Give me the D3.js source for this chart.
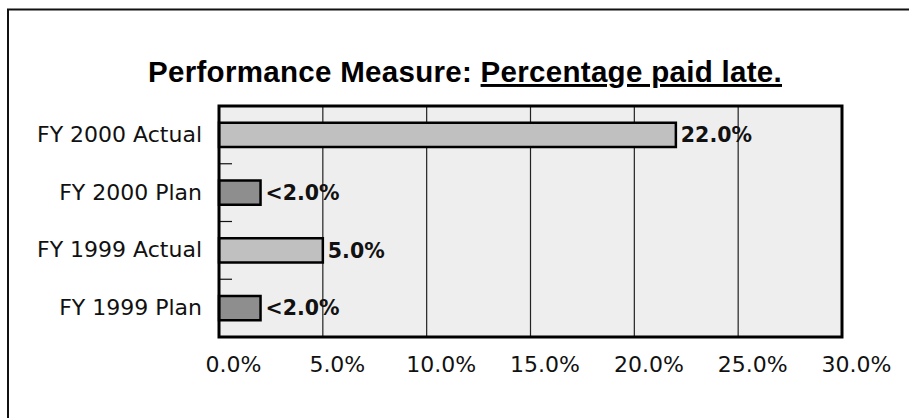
<!DOCTYPE html>
<html>
<head>
<meta charset="utf-8">
<script src="https://cdn.jsdelivr.net/npm/d3@7"></script>
<style>
  body { margin: 0; background: #fff; }
  svg { display: block; }
</style>
</head>
<body>
<svg id="chart"></svg>
<script>
const categories = ["FY 2000 Actual", "FY 2000 Plan", "FY 1999 Actual", "FY 1999 Plan"];
const values = [22.0, 2.0, 5.0, 2.0];
const valueLabels = ["22.0%", "<2.0%", "5.0%", "<2.0%"];
const kinds = ["Actual", "Plan", "Actual", "Plan"];
const xTicks = [0, 5, 10, 15, 20, 25, 30];

const WIDTH = 909, HEIGHT = 418;
const margin = { top: 106, bottom: 81, left: 219, right: 67 };
const width = WIDTH - margin.left - margin.right,
      height = HEIGHT - margin.top - margin.bottom;

const svg = d3.select("svg#chart")
                .attr("width", WIDTH)
                .attr("height", HEIGHT);

// outer frame (only left and top edges show)
svg.append("path")
    .attr("d", `M8,${HEIGHT} V9.5 H${WIDTH}`)
    .attr("fill", "none")
    .attr("stroke", "#111")
    .attr("stroke-width", 2);

// title
const title = svg.append("text")
                .attr("x", 465)
                .attr("y", 82)
                .attr("text-anchor", "middle")
                .style("font-family", "'Liberation Sans', Arial, sans-serif")
                .style("font-weight", "bold")
                .style("font-size", "29.5px")
                .style("letter-spacing", "0.3px")
                .attr("fill", "#000");
title.append("tspan").text("Performance Measure: ");
title.append("tspan").text("Percentage paid late.")
    .style("text-decoration", "underline");

const g = svg.append("g")
            .attr("transform", `translate(${margin.left}, ${margin.top})`);

const x = d3.scaleLinear().domain([0, 30]).range([0, width]);
const y = d3.scaleBand().domain(categories).range([0, height]).padding(0);

const fills = { Actual: "#c0c0c0", Plan: "#8e8e8e" };

g.append("rect")
    .attr("width", width)
    .attr("height", height)
    .attr("fill", "#eeeeee");

// vertical gridlines
g.selectAll("line.grid")
    .data(xTicks.slice(1, -1))
    .join("line")
    .attr("class", "grid")
    .attr("x1", d => x(d)).attr("x2", d => x(d))
    .attr("y1", 0).attr("y2", height)
    .attr("stroke", "#222")
    .attr("stroke-width", 1.2);

// small ticks between categories
g.selectAll("line.ytick")
    .data(categories.slice(1))
    .join("line")
    .attr("class", "ytick")
    .attr("x1", 0).attr("x2", 13)
    .attr("y1", d => y(d)).attr("y2", d => y(d))
    .attr("stroke", "#111")
    .attr("stroke-width", 1.2);

const barH = y.bandwidth() * 0.42;

g.selectAll("rect.bar")
    .data(categories)
    .join("rect")
    .attr("class", "bar")
    .attr("x", x(0))
    .attr("y", d => y(d) + (y.bandwidth() - barH) / 2)
    .attr("width", (d, i) => x(values[i]) - x(0))
    .attr("height", barH)
    .attr("fill", (d, i) => fills[kinds[i]])
    .attr("stroke", "#000")
    .attr("stroke-width", 2.5);

g.selectAll("text.val")
    .data(categories)
    .join("text")
    .attr("class", "val")
    .attr("x", (d, i) => x(values[i]) + 5)
    .attr("y", d => y(d) + y.bandwidth() / 2)
    .attr("dy", "0.35em")
    .style("font-family", "'DejaVu Sans', sans-serif")
    .style("font-weight", "bold")
    .style("font-size", "20.5px")
    .attr("fill", "#111")
    .text((d, i) => valueLabels[i]);

// plot border
g.append("rect")
    .attr("width", width)
    .attr("height", height)
    .attr("fill", "none")
    .attr("stroke", "#000")
    .attr("stroke-width", 3);

// category labels
const yAxis = svg.append("g")
    .attr("transform", `translate(${margin.left}, ${margin.top})`)
    .call(d3.axisLeft(y).tickSize(0).tickPadding(17));
yAxis.select(".domain").remove();
yAxis.selectAll("text")
    .style("font-family", "'DejaVu Sans', sans-serif")
    .style("font-size", "22px")
    .attr("fill", "#111");

// value axis labels
const xAxis = svg.append("g")
    .attr("transform", `translate(${margin.left}, ${margin.top + height})`)
    .call(d3.axisBottom(x).tickValues(xTicks).tickSize(0).tickPadding(19)
            .tickFormat(d => d3.format(".1f")(d) + "%"));
xAxis.select(".domain").remove();
xAxis.selectAll("text")
    .attr("dx", 14)
    .style("font-family", "'DejaVu Sans', sans-serif")
    .style("font-size", "22px")
    .attr("fill", "#111");
</script>
</body>
</html>
